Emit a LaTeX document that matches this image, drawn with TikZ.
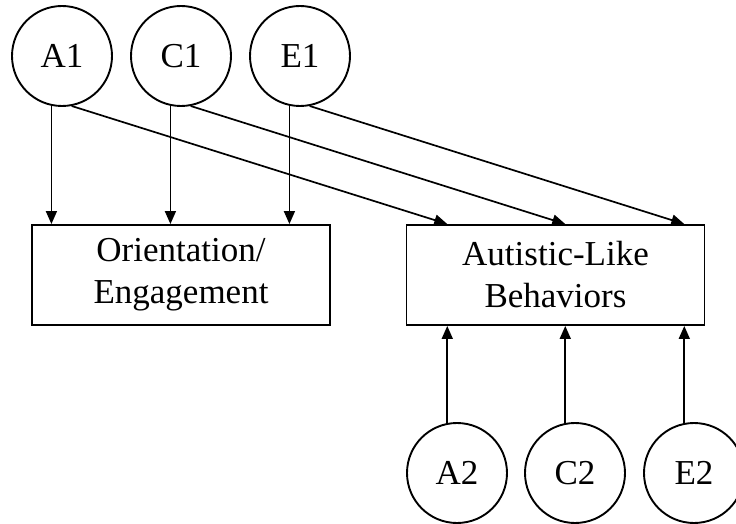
\documentclass[tikz,border=0pt]{standalone}
\usepackage{fontspec}
\setmainfont{Liberation Serif}
\usetikzlibrary{arrows.meta}

\begin{document}
\begin{tikzpicture}[x=1pt,y=-1pt,
latent/.style={draw,circle,minimum size=100pt,inner sep=0pt,line width=1.9pt,font=\fontsize{35}{42}\selectfont},
measure/.style={draw,rectangle,minimum width=298pt,minimum height=100pt,inner sep=0pt,line width=1.9pt,align=center,font=\fontsize{35}{42}\selectfont},
link/.style={line width=1.7pt,-{Triangle[length=13pt,width=11pt]}}]
\useasboundingbox (0,0) rectangle (736,524);
\node[latent] (A1) at (62,56) {A1};
\node[latent] (C1) at (181,56) {C1};
\node[latent] (E1) at (300,56) {E1};
\node[latent] (A2) at (457,473) {A2};
\node[latent] (C2) at (575,473) {C2};
\node[latent] (E2) at (694,473) {E2};
\node[measure] (orient) at (181,275) {Orientation/\\Engagement};
\node[measure] (behav) at (555.5,275) {Autistic-Like\\Behaviors};
\draw[link] (A1.258.5) -- (A1.258.5 |- orient.north);
\draw[link] (C1.258.5) -- (C1.258.5 |- orient.north);
\draw[link] (E1.258.5) -- (E1.258.5 |- orient.north);
\draw[link] (A1.281.5) -- (A2.101.5 |- behav.north);
\draw[link] (C1.281.5) -- (C2.101.5 |- behav.north);
\draw[link] (E1.281.5) -- (E2.101.5 |- behav.north);
\draw[link] (A2.101.5) -- (A2.101.5 |- behav.south);
\draw[link] (C2.101.5) -- (C2.101.5 |- behav.south);
\draw[link] (E2.101.5) -- (E2.101.5 |- behav.south);
\end{tikzpicture}
\end{document}
